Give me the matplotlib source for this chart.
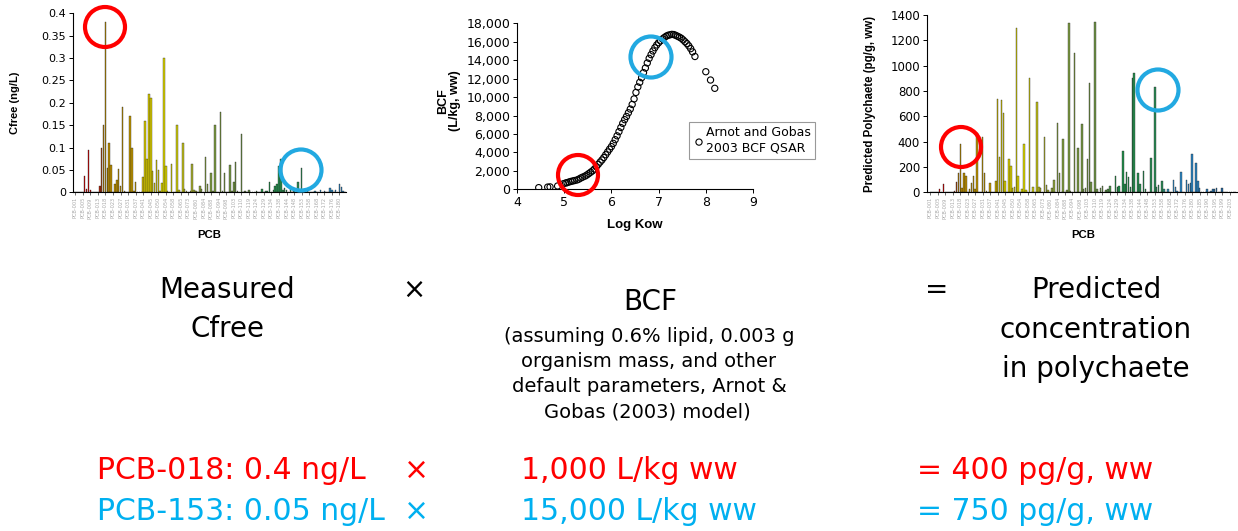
import matplotlib
matplotlib.use("Agg")
import matplotlib.pyplot as plt
import numpy as np
from matplotlib.colors import LinearSegmentedColormap
from matplotlib.patches import Circle
from matplotlib.ticker import FuncFormatter

# ---------------- data ----------------
pcb_tick_labels = ["PCB-001", "PCB-005", "PCB-009", "PCB-013", "PCB-018", "PCB-023",
                   "PCB-027", "PCB-031", "PCB-037", "PCB-041", "PCB-045", "PCB-050",
                   "PCB-054", "PCB-058", "PCB-065", "PCB-073", "PCB-080", "PCB-084",
                   "PCB-088", "PCB-094", "PCB-098", "PCB-103", "PCB-110", "PCB-119",
                   "PCB-124", "PCB-129", "PCB-134", "PCB-138", "PCB-144", "PCB-148",
                   "PCB-153", "PCB-158", "PCB-168", "PCB-172", "PCB-176", "PCB-180",
                   "PCB-185", "PCB-190", "PCB-195", "PCB-199", "PCB-203"]

# measured Cfree (ng/L), one value per congener slot
cfree = [0, 0, 0, 0, 0, 0.037, 0.008, 0.095, 0.005, 0,
         0, 0, 0, 0.013, 0.10, 0.15, 0.38, 0.055, 0.11, 0.06,
         0, 0.018, 0.028, 0.052, 0.015, 0.19, 0.002, 0, 0, 0.17,
         0.10, 0.003, 0.022, 0, 0, 0, 0.035, 0.16, 0.075, 0.22,
         0.21, 0.048, 0.02, 0.072, 0.049, 0.003, 0.02, 0.30, 0.058, 0.003,
         0, 0.064, 0, 0, 0.15, 0.006, 0, 0.11, 0.007, 0.004,
         0, 0.003, 0.064, 0.006, 0.002, 0, 0.015, 0.007, 0, 0.079,
         0.019, 0, 0.044, 0.002, 0.15, 0, 0, 0.18, 0.003, 0.044,
         0, 0, 0.06, 0.003, 0.022, 0.067, 0.003, 0, 0.13, 0,
         0.002, 0, 0.005, 0, 0, 0, 0.003, 0, 0, 0.008,
         0, 0.004, 0.003, 0.024, 0, 0.005, 0.015, 0.018, 0.058, 0.075,
         0.005, 0.01, 0.005, 0, 0.01, 0, 0.003, 0, 0.022, 0,
         0.055, 0, 0.003, 0.003, 0, 0, 0, 0.002, 0, 0,
         0.005, 0, 0.002, 0, 0, 0.01, 0.006, 0, 0.005, 0,
         0.018, 0.012, 0.004, 0]

# predicted polychaete concentration (pg/g ww)
predicted = [0, 0, 0, 0, 0, 24, 0, 66, 0, 0,
             0, 0, 0, 13, 84, 155, 382, 32, 150, 129,
             0, 24, 71, 129, 29, 470, 0, 0, 434, 155,
             10, 0, 76, 0, 0, 89, 734, 282, 729, 624,
             89, 0, 260, 208, 32, 45, 1297, 132, 0, 24,
             382, 18, 0, 900, 0, 39, 0, 716, 39, 32,
             0, 440, 58, 18, 0, 32, 97, 0, 545, 150,
             0, 421, 0, 18, 1334, 8, 0, 1097, 0, 353,
             0, 539, 29, 37, 261, 866, 82, 0, 1342, 24,
             0, 32, 53, 0, 18, 29, 53, 0, 0, 132,
             42, 53, 0, 329, 63, 161, 118, 45, 900, 945,
             0, 150, 66, 0, 171, 24, 0, 0, 268, 0,
             829, 39, 58, 0, 92, 24, 0, 29, 0, 0,
             97, 39, 13, 0, 161, 0, 0, 97, 66, 76,
             300, 0, 234, 89, 32, 0, 0, 0, 24, 0,
             13, 24, 29, 37, 0, 0, 37, 0, 0, 0,
             5, 0, 0, 0]

# Arnot & Gobas 2003 BCF QSAR curve
log_kow = [4.46, 4.65, 4.70, 4.86, 4.98, 5.03, 5.06, 5.10, 5.14, 5.18,
           5.22, 5.27, 5.31, 5.35, 5.39, 5.44, 5.48, 5.52, 5.56, 5.60,
           5.64, 5.68, 5.72, 5.76, 5.80, 5.84, 5.88, 5.92, 5.96, 6.00,
           6.04, 6.08, 6.12, 6.16, 6.20, 6.24, 6.28, 6.32, 6.36, 6.40,
           6.44, 6.48, 6.52, 6.56, 6.60, 6.64, 6.68, 6.72, 6.76, 6.80,
           6.84, 6.88, 6.92, 6.96, 7.00, 7.04, 7.08, 7.12, 7.16, 7.20,
           7.24, 7.28, 7.32, 7.36, 7.40, 7.44, 7.48, 7.52, 7.56, 7.60,
           7.64, 7.68, 7.72, 7.77, 8.00, 8.10, 8.19]
bcf = [180, 240, 260, 360, 600, 680, 720, 790, 850, 900,
       950, 1010, 1100, 1220, 1320, 1430, 1550, 1700, 1850, 2000,
       2200, 2450, 2700, 2950, 3180, 3450, 3750, 4050, 4350, 4630,
       4980, 5380, 5800, 6250, 6700, 7150, 7550, 7900, 8300, 8700,
       9200, 9800, 10500, 11100, 11600, 12100, 12650, 13150, 13700, 14200,
       14600, 15000, 15350, 15650, 15900, 16100, 16300, 16450, 16600, 16700,
       16750, 16800, 16780, 16700, 16600, 16500, 16380, 16200, 16000, 15800,
       15550, 15250, 14900, 14400, 12750, 11850, 10950]

# ---------------- figure ----------------
W, H = 1238, 531
fig = plt.figure(figsize=(W / 100, H / 100), dpi=100)


def fx(px):
    return px / W


def fy(py):
    return 1 - py / H


n_slots = len(predicted)
color_stops = [(0.0, '#D00000'), (12 / 163, '#D00000'), (13 / 163, '#A03010'),
               (15 / 163, '#B88A00'), (33 / 163, '#C09800'), (37 / 163, '#D6C800'),
               (50 / 163, '#DCD800'), (60 / 163, '#B4B428'), (67 / 163, '#86A040'),
               (93 / 163, '#6A9048'), (100 / 163, '#22904A'), (124 / 163, '#2E8A58'),
               (128 / 163, '#3090CC'), (146 / 163, '#2A7DBA'), (1.0, '#24588A')]
cmap = LinearSegmentedColormap.from_list('pcb', color_stops)
slot_colors = [cmap(i / (n_slots - 1)) for i in range(n_slots)]
tick_slots = np.arange(0, n_slots, 4)

tick_font = 'DejaVu Sans'
lab_font = 'Liberation Sans'
BAR_W = 0.82
BAR_EDGE = 0.25


def style_bar_axes(ax, nlabels):
    for s in ('top', 'right'):
        ax.spines[s].set_visible(False)
    ax.spines['left'].set_linewidth(0.8)
    ax.spines['bottom'].set_linewidth(0.8)
    ax.set_xticks(tick_slots[:nlabels])
    ax.set_xticklabels(pcb_tick_labels[:nlabels], rotation=90, fontsize=3.6,
                       color='#a8a8a8', family=tick_font)
    ax.tick_params(axis='x', length=2, width=0.4, pad=1.5)
    ax.tick_params(axis='y', length=3, width=0.7, labelsize=8, pad=2)
    for t in ax.get_yticklabels():
        t.set_family(tick_font)


# left: measured Cfree
ax1 = fig.add_axes([fx(73), fy(192.3), fx(346) - fx(73), (192.3 - 13.3) / H])
x1 = np.arange(len(cfree))
ax1.bar(x1, cfree, width=BAR_W, color=slot_colors[:len(cfree)],
        edgecolor='#202020', linewidth=BAR_EDGE)
ax1.set_xlim(-1.2, len(cfree) - 0.5)
ax1.set_ylim(0, 0.4)
ax1.set_yticks(np.arange(0, 0.401, 0.05))
ax1.yaxis.set_major_formatter(FuncFormatter(lambda v, p: f"{round(v, 3):g}"))
style_bar_axes(ax1, 36)

# middle: BCF vs log Kow
ax2 = fig.add_axes([fx(517), fy(189.3), fx(753) - fx(517), (189.3 - 23.3) / H])
ax2.scatter(log_kow, bcf, s=20, facecolors='none', edgecolors='black',
            linewidths=0.8, label='Arnot and Gobas\n2003 BCF QSAR', zorder=3)
ax2.set_xlim(4, 9)
ax2.set_ylim(0, 18000)
ax2.set_xticks(range(4, 10))
ax2.set_yticks(range(0, 18001, 2000))
ax2.yaxis.set_major_formatter(FuncFormatter(lambda v, p: f"{int(v):,}"))
for s in ('top', 'right'):
    ax2.spines[s].set_visible(False)
ax2.tick_params(axis='both', length=3, width=0.7, labelsize=9, pad=2)
for t in ax2.get_xticklabels() + ax2.get_yticklabels():
    t.set_family(tick_font)
leg = fig.legend(loc='upper left', bbox_to_anchor=(fx(689), fy(122)),
                 frameon=True, fancybox=False, edgecolor='#808080',
                 prop={'family': tick_font, 'size': 9}, handletextpad=0.1,
                 borderpad=0.35, handlelength=0.9, borderaxespad=0)
leg.get_frame().set_linewidth(0.8)

# right: predicted polychaete
ax3 = fig.add_axes([fx(927), fy(192.3), fx(1238) - fx(927), (192.3 - 15) / H])
x3 = np.arange(len(predicted))
ax3.bar(x3, predicted, width=BAR_W, color=slot_colors, edgecolor='#202020',
        linewidth=BAR_EDGE)
ax3.set_xlim(-1.8, len(predicted) + 0.5)
ax3.set_ylim(0, 1400)
ax3.set_yticks(range(0, 1401, 200))
style_bar_axes(ax3, len(pcb_tick_labels))
ax3.tick_params(axis='y', labelsize=8.5)

# ---------------- overlay for text and highlight circles ----------------
ov = fig.add_axes([0, 0, 1, 1], zorder=10)
ov.set_xlim(0, W)
ov.set_ylim(H, 0)
ov.axis('off')
ov.patch.set_alpha(0)

# axis titles
ov.text(15, 103, 'Cfree (ng/L)', rotation=90, ha='center', va='center',
        fontsize=8, weight='bold', family=lab_font)
ov.text(209, 235, 'PCB', ha='center', va='center', fontsize=8.2,
        weight='bold', family=lab_font)
ov.text(449, 101, 'BCF\n(L/kg, ww)', rotation=90, ha='center', va='center',
        fontsize=9, weight='bold', family=lab_font, multialignment='center',
        linespacing=1.05)
ov.text(635, 225, 'Log Kow', ha='center', va='center', fontsize=9.5,
        weight='bold', family=lab_font)
ov.text(870, 104, 'Predicted Polychaete (pg/g, ww)', rotation=90, ha='center',
        va='center', fontsize=8.3, weight='bold', family=lab_font)
ov.text(1083, 235, 'PCB', ha='center', va='center', fontsize=8.2,
        weight='bold', family=lab_font)

RED = '#FF0000'
RING_BLUE = '#22A9E1'
TXT_BLUE = '#00B0F0'
ring_lw = 3.0
for (cx, cy) in [(105, 27), (578, 175), (961, 147)]:
    ov.add_patch(Circle((cx, cy), 20, fill=False, ec=RED, lw=ring_lw))
for (cx, cy) in [(301, 170), (651, 57), (1158, 90)]:
    ov.add_patch(Circle((cx, cy), 20.5, fill=False, ec=RING_BLUE, lw=ring_lw))

# equation text
big = dict(family='DejaVu Sans', fontsize=20, color='black', va='baseline')
ov.text(227, 298, 'Measured', ha='center', **big)
ov.text(228, 337, 'Cfree', ha='center', **big)
ov.text(414, 298, '×', ha='center', **big)
ov.text(650, 310, 'BCF', ha='center', **big)
small = dict(family='DejaVu Sans', fontsize=14, color='black', va='baseline',
             ha='center')
ov.text(649, 342, '(assuming 0.6% lipid, 0.003 g', **small)
ov.text(649, 367, 'organism mass, and other', **small)
ov.text(649, 392, 'default parameters, Arnot &', **small)
ov.text(647, 417, 'Gobas (2003) model)', **small)
ov.text(937, 298, '=', ha='center', **big)
ov.text(1096, 298, 'Predicted', ha='center', **big)
ov.text(1096, 338, 'concentration', ha='center', **big)
ov.text(1096, 377, 'in polychaete', ha='center', **big)

low = dict(family='DejaVu Sans', fontsize=21.5, va='baseline', ha='left')
ov.text(97, 479, 'PCB-018: 0.4 ng/L', color=RED, **low)
ov.text(416, 479, '×', color=RED, **{**low, 'ha': 'center'})
ov.text(521, 479, '1,000 L/kg ww', color=RED, **low)
ov.text(917, 479, '= 400 pg/g, ww', color=RED, **low)
ov.text(97, 520, 'PCB-153: 0.05 ng/L', color=TXT_BLUE, **low)
ov.text(416, 520, '×', color=TXT_BLUE, **{**low, 'ha': 'center'})
ov.text(521, 520, '15,000 L/kg ww', color=TXT_BLUE, **low)
ov.text(917, 520, '= 750 pg/g, ww', color=TXT_BLUE, **low)

fig.savefig('out.png', dpi=100)
